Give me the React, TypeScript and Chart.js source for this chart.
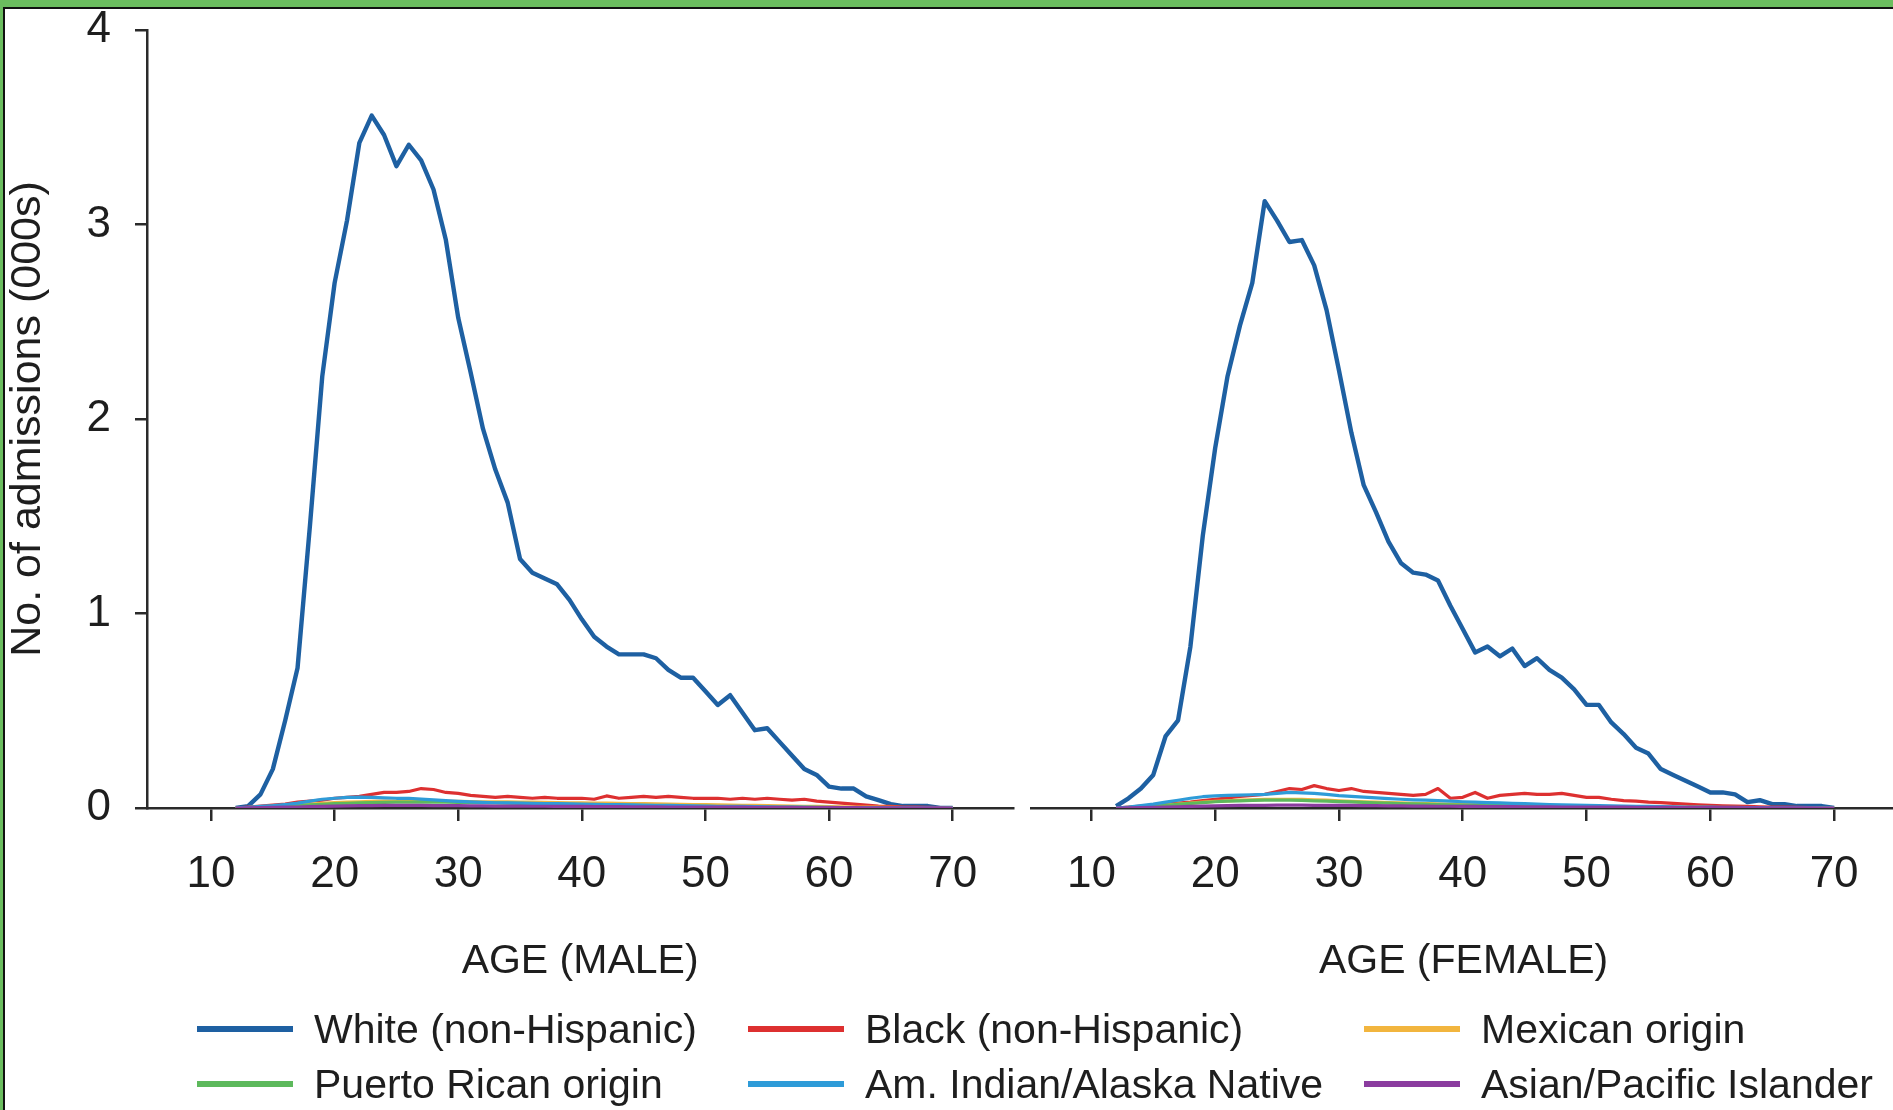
import React, { useEffect, useRef } from "react";
import { Chart, registerables } from "chart.js";

Chart.register(...registerables);

// ---------- data ----------
const ages = [
  12, 13, 14, 15, 16, 17, 18, 19, 20, 21,
  22, 23, 24, 25, 26, 27, 28, 29, 30, 31,
  32, 33, 34, 35, 36, 37, 38, 39, 40, 41,
  42, 43, 44, 45, 46, 47, 48, 49, 50, 51,
  52, 53, 54, 55, 56, 57, 58, 59, 60, 61,
  62, 63, 64, 65, 66, 67, 68, 69, 70,
];

const ageTicks = [10, 20, 30, 40, 50, 60, 70];
const countTicks = [0, 1, 2, 3, 4];

const seriesNames = [
  "White (non-Hispanic)",
  "Black (non-Hispanic)",
  "Mexican origin",
  "Puerto Rican origin",
  "Am. Indian/Alaska Native",
  "Asian/Pacific Islander",
];

const seriesColors = ["#1e60a2", "#dd3030", "#f2b53e", "#5db95c", "#2e9bd8", "#8b3c9f"];

// legend order (row by row, as in the figure)
const legendOrder = [0, 1, 2, 3, 4, 5];

// MALE
const maleWhite = [
  0, 0.01, 0.07, 0.2, 0.45, 0.72, 1.45, 2.22, 2.7, 3.02,
  3.42, 3.56, 3.46, 3.3, 3.41, 3.33, 3.18, 2.92, 2.52, 2.24,
  1.95, 1.74, 1.57, 1.28, 1.21, 1.18, 1.15, 1.07, 0.97, 0.88,
  0.83, 0.79, 0.79, 0.79, 0.77, 0.71, 0.67, 0.67, 0.6, 0.53,
  0.58, 0.49, 0.4, 0.41, 0.34, 0.27, 0.2, 0.17, 0.11, 0.1,
  0.1, 0.06, 0.04, 0.02, 0.01, 0.01, 0.01, 0, 0,
];
const maleBlack = [
  0, 0.005, 0.01, 0.015, 0.02, 0.03, 0.035, 0.04, 0.05, 0.055,
  0.06, 0.07, 0.08, 0.08, 0.085, 0.1, 0.095, 0.08, 0.075, 0.065,
  0.06, 0.055, 0.06, 0.055, 0.05, 0.055, 0.05, 0.05, 0.05, 0.045,
  0.062, 0.05, 0.055, 0.06, 0.055, 0.06, 0.055, 0.05, 0.05, 0.05,
  0.045, 0.05, 0.045, 0.05, 0.045, 0.04, 0.045, 0.035, 0.03, 0.025,
  0.02, 0.015, 0.01, 0.008, 0.005, 0.004, 0.003, 0.002, 0,
];
const maleMexican = [
  0, 0.002, 0.005, 0.008, 0.012, 0.016, 0.02, 0.024, 0.028, 0.03,
  0.032, 0.034, 0.035, 0.036, 0.036, 0.035, 0.035, 0.034, 0.034, 0.033,
  0.032, 0.032, 0.031, 0.03, 0.03, 0.029, 0.028, 0.027, 0.026, 0.025,
  0.025, 0.024, 0.023, 0.022, 0.021, 0.02, 0.019, 0.018, 0.017, 0.016,
  0.015, 0.014, 0.013, 0.012, 0.011, 0.01, 0.009, 0.008, 0.007, 0.006,
  0.005, 0.004, 0.004, 0.003, 0.002, 0.002, 0.001, 0.001, 0,
];
const malePuertoRican = [
  0, 0.001, 0.003, 0.006, 0.009, 0.012, 0.016, 0.019, 0.022, 0.024,
  0.026, 0.028, 0.029, 0.03, 0.03, 0.031, 0.03, 0.03, 0.029, 0.028,
  0.027, 0.026, 0.025, 0.024, 0.023, 0.022, 0.02, 0.019, 0.018, 0.016,
  0.015, 0.014, 0.013, 0.012, 0.011, 0.01, 0.009, 0.009, 0.008, 0.007,
  0.006, 0.006, 0.005, 0.005, 0.004, 0.004, 0.003, 0.003, 0.002, 0.002,
  0.002, 0.001, 0.001, 0.001, 0.001, 0, 0, 0, 0,
];
const maleAmIndian = [
  0, 0.003, 0.008, 0.012, 0.018, 0.025, 0.035, 0.045, 0.05, 0.055,
  0.056, 0.055, 0.052, 0.05, 0.05, 0.046, 0.042, 0.038, 0.034, 0.031,
  0.029, 0.027, 0.026, 0.025, 0.024, 0.023, 0.022, 0.021, 0.02, 0.019,
  0.018, 0.017, 0.016, 0.015, 0.014, 0.013, 0.012, 0.011, 0.01, 0.009,
  0.008, 0.008, 0.007, 0.006, 0.005, 0.005, 0.004, 0.003, 0.003, 0.002,
  0.002, 0.001, 0.001, 0.001, 0, 0, 0, 0, 0,
];
const maleAsian = [
  0, 0.001, 0.002, 0.003, 0.004, 0.005, 0.007, 0.008, 0.01, 0.011,
  0.012, 0.012, 0.013, 0.013, 0.013, 0.013, 0.012, 0.012, 0.012, 0.011,
  0.011, 0.01, 0.01, 0.01, 0.009, 0.009, 0.008, 0.008, 0.008, 0.007,
  0.007, 0.007, 0.006, 0.006, 0.006, 0.005, 0.005, 0.005, 0.004, 0.004,
  0.004, 0.004, 0.003, 0.003, 0.003, 0.003, 0.002, 0.002, 0.002, 0.002,
  0.002, 0.001, 0.001, 0.001, 0.001, 0.001, 0.001, 0.001, 0,
];

// FEMALE
const femaleWhite = [
  0.01, 0.05, 0.1, 0.17, 0.37, 0.45, 0.83, 1.4, 1.85, 2.22,
  2.48, 2.7, 3.12, 3.02, 2.91, 2.92, 2.79, 2.56, 2.25, 1.93,
  1.66, 1.52, 1.37, 1.26, 1.21, 1.2, 1.17, 1.04, 0.92, 0.8,
  0.83, 0.78, 0.82, 0.73, 0.77, 0.71, 0.67, 0.61, 0.53, 0.53,
  0.44, 0.38, 0.31, 0.28, 0.2, 0.17, 0.14, 0.11, 0.08, 0.08,
  0.07, 0.03, 0.04, 0.02, 0.02, 0.01, 0.01, 0.01, 0,
];
const femaleBlack = [
  0, 0.005, 0.01, 0.015, 0.02, 0.025, 0.03, 0.038, 0.045, 0.052,
  0.06, 0.065, 0.07, 0.085, 0.1, 0.095, 0.115, 0.1, 0.09, 0.1,
  0.085, 0.08, 0.075, 0.07, 0.065, 0.07, 0.1, 0.05, 0.055, 0.08,
  0.05, 0.065, 0.07, 0.075, 0.07, 0.07, 0.075, 0.065, 0.055, 0.055,
  0.045, 0.038, 0.035, 0.03, 0.028, 0.024, 0.02, 0.016, 0.013, 0.011,
  0.01, 0.008, 0.006, 0.005, 0.004, 0.003, 0.002, 0.001, 0,
];
const femaleMexican = [
  0, 0.003, 0.006, 0.01, 0.015, 0.02, 0.025, 0.03, 0.034, 0.037,
  0.04, 0.042, 0.044, 0.045, 0.045, 0.044, 0.042, 0.04, 0.037, 0.034,
  0.032, 0.03, 0.028, 0.026, 0.024, 0.022, 0.021, 0.02, 0.018, 0.017,
  0.016, 0.015, 0.014, 0.013, 0.012, 0.011, 0.01, 0.009, 0.008, 0.007,
  0.007, 0.006, 0.005, 0.005, 0.004, 0.004, 0.003, 0.003, 0.002, 0.002,
  0.002, 0.001, 0.001, 0.001, 0.001, 0, 0, 0, 0,
];
const femalePuertoRican = [
  0, 0.002, 0.005, 0.009, 0.014, 0.019, 0.024, 0.028, 0.032, 0.035,
  0.037, 0.039, 0.04, 0.041, 0.04, 0.039, 0.037, 0.035, 0.033, 0.031,
  0.029, 0.027, 0.025, 0.023, 0.021, 0.02, 0.018, 0.016, 0.015, 0.014,
  0.013, 0.012, 0.011, 0.01, 0.009, 0.008, 0.008, 0.007, 0.006, 0.006,
  0.005, 0.005, 0.004, 0.004, 0.003, 0.003, 0.002, 0.002, 0.002, 0.001,
  0.001, 0.001, 0.001, 0, 0, 0, 0, 0, 0,
];
const femaleAmIndian = [
  0, 0.005, 0.012, 0.02, 0.03, 0.04, 0.05, 0.058, 0.062, 0.065,
  0.066, 0.068, 0.07, 0.075, 0.08, 0.078, 0.075, 0.07, 0.064, 0.06,
  0.056, 0.052, 0.048, 0.045, 0.042, 0.04, 0.038, 0.035, 0.032, 0.03,
  0.028, 0.026, 0.024, 0.022, 0.02, 0.018, 0.016, 0.015, 0.013, 0.012,
  0.011, 0.01, 0.009, 0.008, 0.007, 0.006, 0.005, 0.004, 0.004, 0.003,
  0.003, 0.002, 0.002, 0.001, 0.001, 0.001, 0, 0, 0,
];
const femaleAsian = [
  0, 0.001, 0.002, 0.003, 0.004, 0.006, 0.008, 0.01, 0.011, 0.012,
  0.013, 0.014, 0.014, 0.015, 0.015, 0.015, 0.014, 0.014, 0.013, 0.013,
  0.012, 0.012, 0.011, 0.011, 0.01, 0.01, 0.009, 0.009, 0.008, 0.008,
  0.007, 0.007, 0.007, 0.006, 0.006, 0.006, 0.005, 0.005, 0.005, 0.004,
  0.004, 0.004, 0.003, 0.003, 0.003, 0.003, 0.002, 0.002, 0.002, 0.002,
  0.002, 0.001, 0.001, 0.001, 0.001, 0.001, 0.001, 0, 0,
];

const maleSeries = [maleWhite, maleBlack, maleMexican, malePuertoRican, maleAmIndian, maleAsian];
const femaleSeries = [femaleWhite, femaleBlack, femaleMexican, femalePuertoRican, femaleAmIndian, femaleAsian];

const yTitle = "No. of admissions (000s)";
const maleTitle = "AGE (MALE)";
const femaleTitle = "AGE (FEMALE)";

// ---------- styling ----------
const FONT = '"Liberation Sans", Arial, Helvetica, sans-serif';
const INK = "#1e1e1e";
const AXIS = "#2a2a2a";
const FRAME_GREEN = "#6bbd5f";

function buildDatasets(values: number[][]) {
  return seriesNames.map((name, i) => ({
    label: name,
    data: ages.map((a, j) => ({ x: a, y: values[i][j] })),
    borderColor: seriesColors[i],
    backgroundColor: seriesColors[i],
    borderWidth: i === 0 ? 4.4 : 3.2,
    pointRadius: 0,
    pointHoverRadius: 0,
    tension: 0,
    fill: false,
    borderJoinStyle: "round",
    order: seriesNames.length - 1 - i,
  }));
}

function buildOptions(isLeft: boolean, title: string): any {
  return {
    responsive: false,
    maintainAspectRatio: false,
    animation: false,
    devicePixelRatio: 1,
    events: [],
    layout: {
      padding: isLeft
        ? { top: 30, left: 0, right: 6.8, bottom: 0 }
        : { top: 30, left: 31.1, right: 0, bottom: 0 },
    },
    plugins: {
      legend: { display: false },
      tooltip: { enabled: false },
      title: { display: false },
    },
    scales: {
      x: {
        type: "linear",
        min: isLeft ? 4.82 : 5.13,
        max: isLeft ? 74.9 : 75.0,
        afterBuildTicks: (s: any) => {
          s.ticks = ageTicks.map((v) => ({ value: v }));
        },
        afterFit: (s: any) => {
          s.height = 192;
          s.paddingLeft = 0;
          s.paddingRight = 0;
        },
        grid: {
          drawOnChartArea: false,
          drawTicks: true,
          tickLength: 13,
          color: AXIS,
          lineWidth: 2.5,
        },
        border: { display: true, color: AXIS, width: 2.5 },
        ticks: {
          color: INK,
          font: { family: FONT, size: 44 },
          padding: 27,
          maxRotation: 0,
          autoSkip: false,
        },
        title: {
          display: true,
          text: title,
          color: INK,
          font: { family: FONT, size: 41 },
          padding: { top: 0, bottom: 13.8 },
        },
      },
      y: {
        type: "linear",
        display: isLeft,
        min: 0,
        max: 4,
        afterBuildTicks: (s: any) => {
          s.ticks = countTicks.map((v) => ({ value: v }));
        },
        afterFit: (s: any) => {
          s.width = isLeft ? 147 : 0;
          s.paddingTop = 0;
          s.paddingBottom = 0;
        },
        grid: {
          drawOnChartArea: false,
          drawTicks: true,
          tickLength: 12,
          color: AXIS,
          lineWidth: 2.5,
        },
        border: { display: true, color: AXIS, width: 2.5 },
        ticks: {
          color: INK,
          font: { family: FONT, size: 44 },
          padding: 24,
        },
        title: {
          display: true,
          text: yTitle,
          color: INK,
          font: { family: FONT, size: 43 },
          padding: { top: 2, bottom: 0 },
        },
      },
    },
  };
}

const legendColumnsX = [197, 748, 1364];
const legendRowsY = [1029, 1084];

export default function App() {
  const leftRef = useRef<HTMLCanvasElement | null>(null);
  const rightRef = useRef<HTMLCanvasElement | null>(null);

  useEffect(() => {
    if (!leftRef.current || !rightRef.current) return;
    const left = new Chart(leftRef.current, {
      type: "line",
      data: { datasets: buildDatasets(maleSeries) as any },
      options: buildOptions(true, maleTitle),
    });
    const right = new Chart(rightRef.current, {
      type: "line",
      data: { datasets: buildDatasets(femaleSeries) as any },
      options: buildOptions(false, femaleTitle),
    });
    return () => {
      left.destroy();
      right.destroy();
    };
  }, []);

  return (
    <div
      style={{
        position: "absolute",
        left: 0,
        top: 0,
        width: 1893,
        height: 1110,
        overflow: "hidden",
        background: "#ffffff",
        fontFamily: FONT,
      }}
    >
      <canvas
        ref={leftRef}
        width={1020}
        height={1000}
        style={{ position: "absolute", left: 0, top: 0, width: 1020, height: 1000 }}
      />
      <canvas
        ref={rightRef}
        width={896}
        height={1000}
        style={{ position: "absolute", left: 1000, top: 0, width: 896, height: 1000 }}
      />

      {legendOrder.map((si, k) => {
        const col = k % 3;
        const row = Math.floor(k / 3);
        return (
          <div
            key={si}
            style={{
              position: "absolute",
              left: legendColumnsX[col],
              top: legendRowsY[row] - 30,
              height: 60,
              display: "flex",
              alignItems: "center",
              whiteSpace: "nowrap",
            }}
          >
            <span
              style={{
                display: "inline-block",
                width: 96,
                height: 6,
                background: seriesColors[si],
                marginRight: 21,
              }}
            />
            <span style={{ fontSize: 41, lineHeight: 1, color: INK }}>{seriesNames[si]}</span>
          </div>
        );
      })}

      {/* frame */}
      <div style={{ position: "absolute", left: 0, top: 0, width: 1893, height: 7, background: FRAME_GREEN }} />
      <div style={{ position: "absolute", left: 0, top: 7, width: 1893, height: 2, background: "#111" }} />
      <div style={{ position: "absolute", left: 0, top: 0, width: 3, height: 1110, background: FRAME_GREEN }} />
      <div style={{ position: "absolute", left: 3, top: 7, width: 1.5, height: 1103, background: "#111" }} />
    </div>
  );
}
